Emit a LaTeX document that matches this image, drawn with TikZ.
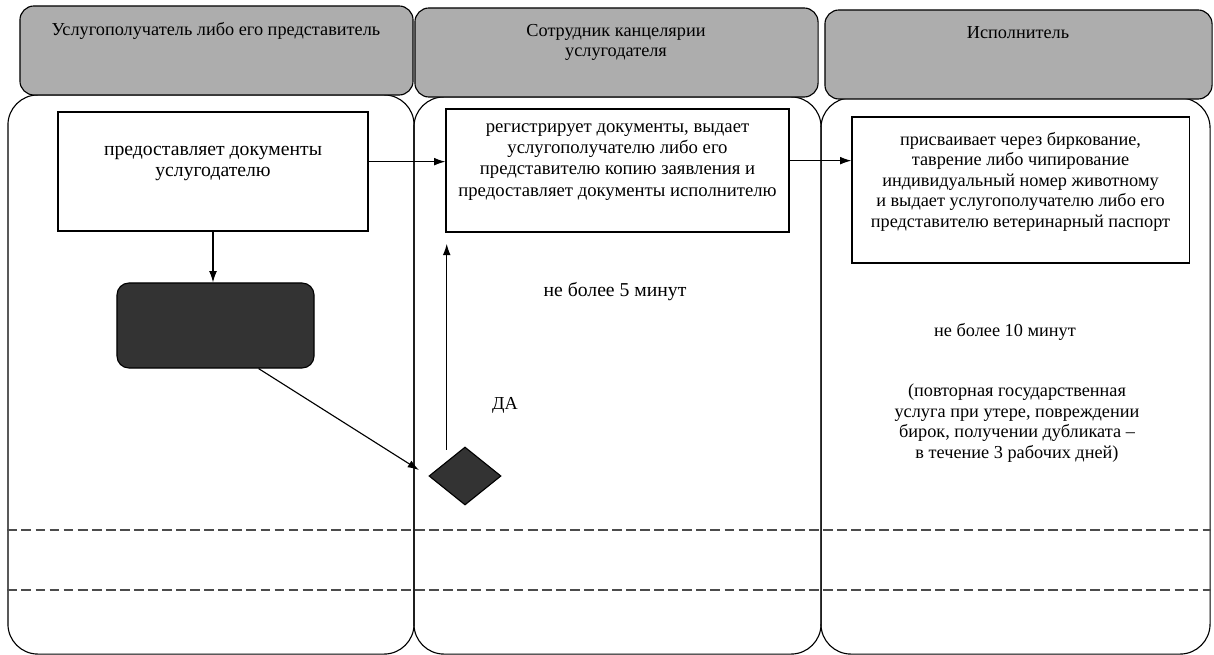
\documentclass[tikz,border=0pt]{standalone}
\usepackage{fontspec}
\setmainfont{Liberation Serif}
\usetikzlibrary{positioning,arrows.meta,shapes.geometric,calc}

\begin{document}
\begin{tikzpicture}[
  x=0.025cm, y=-0.025cm,
  font=\fontsize{13}{14.6}\selectfont,
  lanehead/.style={rectangle,draw,line width=0.8pt,rounded corners=0.35cm,fill=black!32,inner sep=0pt},
  lanebody/.style={rectangle,draw,line width=0.8pt,rounded corners=0.75cm,inner sep=0pt},
  procbox/.style={rectangle,draw,line width=0.8pt,fill=white,align=center,inner sep=0pt},
  darkbox/.style={rectangle,draw,line width=0.8pt,rounded corners=0.3cm,fill=black!80,inner sep=0pt},
  decide/.style={diamond,draw,line width=0.8pt,fill=black!80,inner sep=0pt},
  flow/.style={-{Latex[length=8pt,width=5.5pt]},line width=0.8pt},
  sepline/.style={dash pattern=on 7pt off 3pt,line width=0.8pt,black!70},
  note/.style={align=center,inner sep=0pt},
]
\useasboundingbox (0,0) rectangle (1214,655);

% Lanes - bodies
\node[lanebody,minimum width=10.15cm,minimum height=13.975cm] (b1) at (211,374.5) {};
\node[lanebody,minimum width=10.175cm,minimum height=13.925cm] (b2) at (617.5,375.5) {};
\node[lanebody,minimum width=9.725cm,minimum height=13.9cm] (b3) at (1015.5,376) {};

% Lanes - headers
\node[lanehead,minimum width=9.825cm,minimum height=2.225cm] (h1) at (216.5,50.5) {};
\node[lanehead,minimum width=10.075cm,minimum height=2.225cm] (h2) at (616.5,52.5) {};
\node[lanehead,minimum width=9.675cm,minimum height=2.225cm] (h3) at (1018.5,54.5) {};
\node[note] (t1) at (216,31) {Услугополучатель либо его представитель};
\node[note] (t2) at (616,42.5) {Сотрудник канцелярии\\услугодателя};
\node[note] (t3) at (1018,33) {Исполнитель};

% Step 1: applicant
\node[procbox,font=\fontsize{14}{15}\selectfont,minimum width=7.75cm,minimum height=2.975cm] (give) at (213,171.5)
  {предоставляет документы\\услугодателю\\\mbox{}};
\node[darkbox,minimum width=4.925cm,minimum height=2.125cm] (dark) at (215.5,325.5) {};
\node[decide,minimum width=1.8cm,minimum height=1.45cm] (dia) at (465,476) {};

% Step 2: office
\node[procbox,font=\fontsize{13.3}{15.2}\selectfont,minimum width=8.575cm,minimum height=3.075cm] (reg) at (617.5,170.5)
  {регистрирует документы, выдает\\услугополучателю либо его\\представителю копию заявления и\\предоставляет документы исполнителю\\\mbox{}};
\node[note,font=\fontsize{14}{15}\selectfont] (t5) at (615,292) {не более 5 минут};
\node[note] (yes) at (505,405) {ДА};

% Step 3: executor
\node[procbox,minimum width=8.425cm,minimum height=3.65cm] (assign) at (1020.5,190)
  {присваивает через биркование,\\таврение либо чипирование\\индивидуальный номер животному\\и выдает услугополучателю либо его\\представителю ветеринарный паспорт\\\mbox{}};
\node[note] (t10) at (1005,332) {не более 10 минут};
\node[note] (rep) at (1017,423) {(повторная государственная\\услуга при утере, повреждении\\бирок, получении дубликата –\\в течение 3 рабочих дней)};

% Connectors
\draw[flow] ([yshift=7pt]give.east) -- ([yshift=7pt]give.east -| reg.west);
\draw[flow] ([yshift=7pt]reg.east) -- ([yshift=7pt]reg.east -| assign.west);
\draw[flow] (give.south) -- (give.south |- dark.north);
\draw[flow,shorten >=8pt] (dark.-45) -- (dia.west);
\draw[flow] ([yshift=8pt]dia.north west) -- ([yshift=-8pt]dia.north west |- reg.south);

% Dashed separators
\coordinate (d1) at (0,530);
\coordinate (d2) at (0,590);
\draw[sepline] (b1.west |- d1) -- (b3.east |- d1);
\draw[sepline] (b1.west |- d2) -- (b3.east |- d2);
\end{tikzpicture}
\end{document}
